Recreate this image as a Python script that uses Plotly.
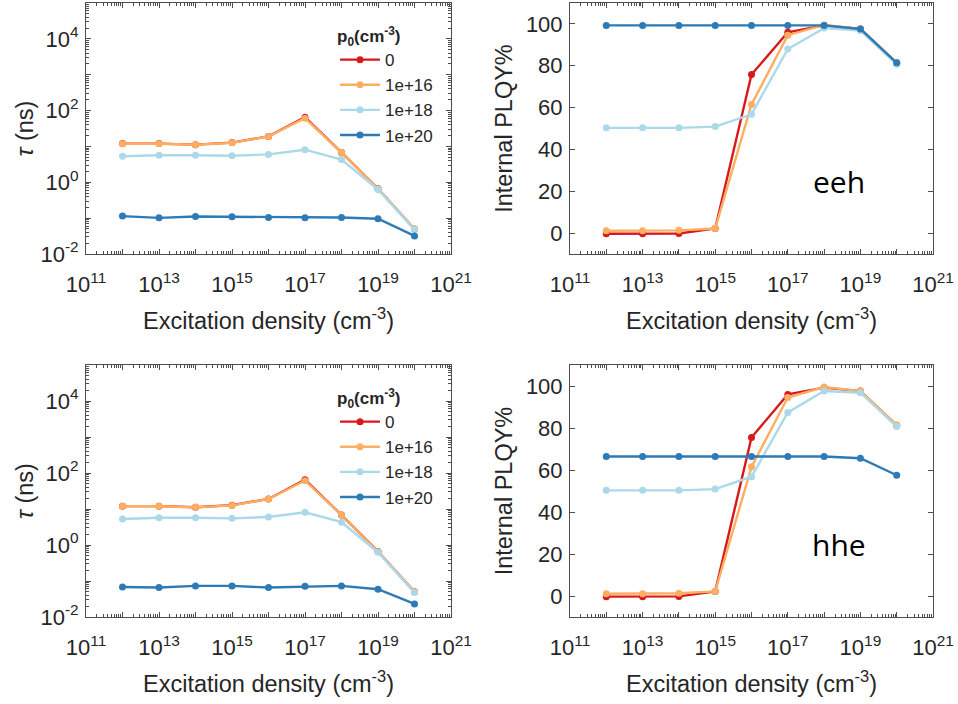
import plotly.graph_objects as go

# ---------------- data ----------------
excitation = [1e12, 1e13, 1e14, 1e15, 1e16, 1e17, 1e18, 1e19, 1e20]
series_names = ["0", "1e+16", "1e+18", "1e+20"]
colors = ["#d7191c", "#fdae61", "#abd9e9", "#2c7bb6"]

# lifetime tau (ns), eeh
tau_eeh_0 = [12.0, 12.0, 11.2, 12.8, 19.0, 65.0, 6.8, 0.66, 0.05]
tau_eeh_16 = [11.9, 11.9, 11.1, 12.6, 19.0, 61.0, 6.8, 0.65, 0.05]
tau_eeh_18 = [5.3, 5.7, 5.7, 5.5, 6.0, 8.1, 4.3, 0.63, 0.048]
tau_eeh_20 = [0.114, 0.102, 0.111, 0.109, 0.104, 0.102, 0.104, 0.096, 0.032]

# lifetime tau (ns), hhe
tau_hhe_0 = [12.0, 12.0, 11.2, 12.8, 19.0, 65.0, 6.8, 0.66, 0.05]
tau_hhe_16 = [11.9, 11.9, 11.1, 12.6, 19.0, 61.0, 6.8, 0.65, 0.05]
tau_hhe_18 = [5.3, 5.7, 5.7, 5.5, 6.0, 8.1, 4.3, 0.63, 0.048]
tau_hhe_20 = [0.068, 0.066, 0.073, 0.073, 0.066, 0.071, 0.073, 0.059, 0.023]

# internal PLQY (%), eeh
plqy_eeh_0 = [-0.3, -0.3, -0.2, 2.2, 75.8, 96.0, 99.3, 97.6, 81.2]
plqy_eeh_16 = [1.1, 1.1, 1.3, 2.2, 61.5, 94.6, 99.5, 97.6, 81.5]
plqy_eeh_18 = [50.3, 50.3, 50.3, 50.9, 56.8, 88.0, 98.0, 96.8, 80.7]
plqy_eeh_20 = [99.3, 99.3, 99.3, 99.3, 99.3, 99.3, 99.3, 97.6, 81.4]

# internal PLQY (%), hhe
plqy_hhe_0 = [-0.3, -0.3, -0.2, 2.2, 75.5, 96.0, 99.2, 97.6, 81.2]
plqy_hhe_16 = [1.1, 1.1, 1.3, 2.2, 61.5, 94.5, 99.5, 97.6, 81.5]
plqy_hhe_18 = [50.3, 50.3, 50.3, 50.9, 56.8, 87.4, 97.6, 96.8, 80.7]
plqy_hhe_20 = [66.4, 66.4, 66.4, 66.4, 66.4, 66.4, 66.4, 65.6, 57.5]

x_tick_vals = [1e11, 1e12, 1e13, 1e14, 1e15, 1e16, 1e17, 1e18, 1e19, 1e20, 1e21]
x_tick_text = ["10<sup>11</sup>", "", "10<sup>13</sup>", "", "10<sup>15</sup>", "",
               "10<sup>17</sup>", "", "10<sup>19</sup>", "", "10<sup>21</sup>"]
tau_tick_vals = [1e-2, 1e-1, 1e0, 1e1, 1e2, 1e3, 1e4, 1e5]
tau_tick_text = ["10<sup>-2</sup>", "", "10<sup>0</sup>", "", "10<sup>2</sup>", "",
                 "10<sup>4</sup>", ""]
plqy_tick_vals = [0, 20, 40, 60, 80, 100]

panels = [
    ("x", "y", [tau_eeh_0, tau_eeh_16, tau_eeh_18, tau_eeh_20], "legend"),
    ("x2", "y2", [plqy_eeh_0, plqy_eeh_16, plqy_eeh_18, plqy_eeh_20], None),
    ("x3", "y3", [tau_hhe_0, tau_hhe_16, tau_hhe_18, tau_hhe_20], "legend2"),
    ("x4", "y4", [plqy_hhe_0, plqy_hhe_16, plqy_hhe_18, plqy_hhe_20], None),
]

fig = go.Figure()
for xa, ya, ser, leg in panels:
    for name, col, vals in zip(series_names, colors, ser):
        kw = dict(showlegend=False)
        if leg:
            kw = dict(showlegend=True, legend=leg)
        fig.add_trace(go.Scatter(
            x=excitation, y=vals, name=name, xaxis=xa, yaxis=ya,
            mode="lines+markers",
            line=dict(color=col, width=2.4),
            marker=dict(color=col, size=7),
            **kw))

FONT = "Liberation Sans, Arial, sans-serif"
AX_COLOR = "#4d4d4d"
TXT = "#262626"
TICK_SIZE = 22
TITLE_SIZE = 23.5

minor_log = []
for e in range(-3, 22):
    for m in range(2, 10):
        minor_log.append(m * 10.0 ** e)

def xaxis(domain, anchor):
    return dict(
        type="log", domain=domain, anchor=anchor, range=[11, 21], automargin=False,
        tickmode="array", tickvals=x_tick_vals, ticktext=x_tick_text,
        ticks="inside", ticklen=5, tickwidth=1, tickcolor=AX_COLOR,
        minor=dict(ticks="inside", ticklen=3, tickcolor=AX_COLOR,
                   tickmode="array", tickvals=minor_log, showgrid=False),
        showline=True, linecolor=AX_COLOR, linewidth=1, mirror="ticks",
        showgrid=False, zeroline=False, ticklabelstandoff=11,
        tickfont=dict(family=FONT, size=TICK_SIZE, color=TXT),
        title=dict(text="Excitation density (cm<sup>-3</sup>)",
                   font=dict(family=FONT, size=TITLE_SIZE, color=TXT), standoff=16),
    )

def tau_axis(domain, anchor):
    return dict(
        type="log", domain=domain, anchor=anchor, range=[-2, 5], automargin=False,
        tickmode="array", tickvals=tau_tick_vals, ticktext=tau_tick_text,
        ticks="inside", ticklen=5, tickwidth=1, tickcolor=AX_COLOR,
        minor=dict(ticks="inside", ticklen=3, tickcolor=AX_COLOR,
                   tickmode="array", tickvals=minor_log, showgrid=False),
        showline=True, linecolor=AX_COLOR, linewidth=1, mirror="ticks",
        showgrid=False, zeroline=False, ticklabelstandoff=2,
        tickfont=dict(family=FONT, size=TICK_SIZE, color=TXT),
        title=dict(text="<i>τ</i> (ns)", font=dict(family=FONT, size=TITLE_SIZE, color=TXT),
                   standoff=0),
    )

def plqy_axis(domain, anchor):
    return dict(
        domain=domain, anchor=anchor, range=[-10, 110], automargin=False,
        tickmode="array", tickvals=plqy_tick_vals,
        ticks="inside", ticklen=5, tickwidth=1, tickcolor=AX_COLOR,
        showline=True, linecolor=AX_COLOR, linewidth=1, mirror="ticks",
        showgrid=False, zeroline=False, ticklabelstandoff=2,
        tickfont=dict(family=FONT, size=TICK_SIZE, color=TXT),
        title=dict(text="Internal PLQY%", font=dict(family=FONT, size=TITLE_SIZE, color=TXT),
                   standoff=6),
    )

W, H = 958, 704
xl = [86 / W, 451 / W]
xr = [570 / W, 933 / W]
yt = [1 - 254 / H, 1 - 3 / H]
yb = [1 - 617 / H, 1 - 365 / H]

legend_style = dict(
    font=dict(family=FONT, size=17, color=TXT),
    bgcolor="rgba(0,0,0,0)", borderwidth=0,
    xanchor="left", yanchor="top", tracegroupgap=0, itemwidth=40,
    title=dict(text="<b>p<sub>0</sub>(cm<sup>-3</sup>)</b>",
               font=dict(family=FONT, size=17, color=TXT)),
)

fig.update_layout(
    width=W, height=H,
    margin=dict(l=0, r=0, t=0, b=0),
    paper_bgcolor="white", plot_bgcolor="white",
    xaxis=xaxis(xl, "y"), yaxis=tau_axis(yt, "x"),
    xaxis2=xaxis(xr, "y2"), yaxis2=plqy_axis(yt, "x2"),
    xaxis3=xaxis(xl, "y3"), yaxis3=tau_axis(yb, "x3"),
    xaxis4=xaxis(xr, "y4"), yaxis4=plqy_axis(yb, "x4"),
    legend=dict(x=335 / W, y=1 - 20 / H, **legend_style),
    legend2=dict(x=335 / W, y=1 - 382 / H, **legend_style),
    annotations=[
        dict(text="eeh", xref="x2 domain", yref="y2 domain", x=0.74, y=0.287,
             xanchor="center", yanchor="middle",
             showarrow=False, font=dict(family="Open Sans, sans-serif", size=30, color="black")),
        dict(text="hhe", xref="x4 domain", yref="y4 domain", x=0.74, y=0.286,
             xanchor="center", yanchor="middle",
             showarrow=False, font=dict(family="Open Sans, sans-serif", size=30, color="black")),
    ],
)

fig.write_html("out.html")
